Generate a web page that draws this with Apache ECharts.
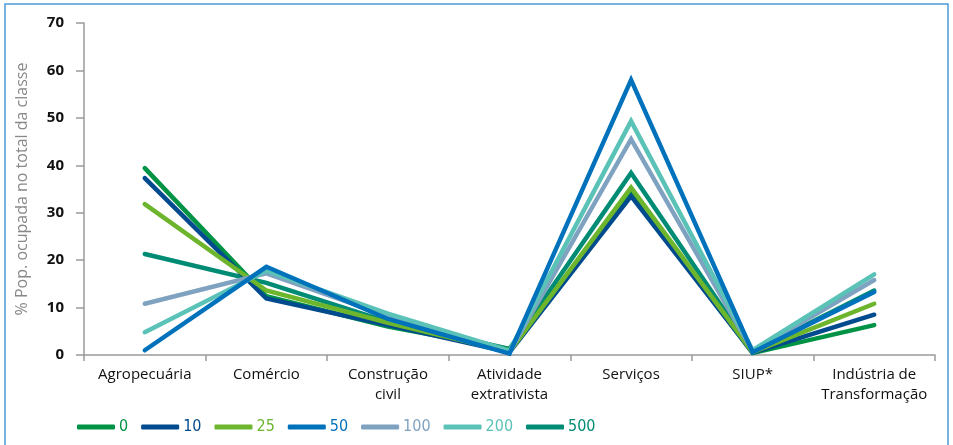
<!DOCTYPE html>
<html>
<head>
<meta charset="utf-8">
<style>
  html, body { margin: 0; padding: 0; background: #fff; }
  #chart { width: 953px; height: 445px; }
</style>
<script src="https://cdn.jsdelivr.net/npm/echarts@6/dist/echarts.min.js"></script>
</head>
<body>
<div id="chart"></div>
<script>
// Economic sectors (x axis)
const categories = [
  'Agropecuária', 'Comércio', 'Construção\ncivil', 'Atividade\nextrativista',
  'Serviços', 'SIUP*', 'Indústria de\nTransformação'
];

// Share of employed population per sector, one list per class
const classNames = ['0', '10', '25', '50', '100', '200', '500'];
const s0   = [39.4, 12.4, 6.0, 1.2, 34.4, 0.4, 6.3];
const s10  = [37.3, 11.9, 6.3, 0.6, 33.5, 0.5, 8.5];
const s25  = [31.8, 13.6, 6.8, 0.7, 35.3, 0.6, 10.8];
const s50  = [1.0, 18.6, 7.6, 0.3, 58.0, 0.6, 13.3];
const s100 = [10.8, 17.2, 8.2, 0.6, 45.5, 0.8, 15.8];
const s200 = [4.8, 17.8, 8.7, 0.9, 49.3, 1.0, 17.0];
const s500 = [21.3, 15.2, 7.0, 1.3, 38.4, 0.7, 13.6];

const yTicks = [0, 10, 20, 30, 40, 50, 60, 70];

const seriesValues = [s0, s10, s25, s50, s100, s200, s500];
const colors = ['#009245', '#004b8d', '#6cb52d', '#0072bc', '#7fa2c1', '#5bc2b7', '#008b74'];
const zOrder = [3, 4, 5, 8, 6, 7, 2];

const chart = echarts.init(document.getElementById('chart'));

chart.setOption({
  animation: false,
  textStyle: { fontFamily: "'Open Sans', 'Noto Sans', sans-serif" },
  graphic: [{
    type: 'rect',
    shape: { x: 5, y: 4, width: 943, height: 460 },
    style: { fill: 'none', stroke: '#4b9bd6', lineWidth: 1.5 },
    silent: true
  }],
  grid: { left: 84, right: 18, top: 23, bottom: 90 },
  legend: {
    left: 72,
    top: 414,
    itemWidth: 38,
    itemHeight: 5,
    itemGap: 13,
    icon: 'roundRect',
    data: classNames.map((n, i) => ({
      name: n,
      textStyle: { color: colors[i] }
    })),
    textStyle: {
      fontSize: 16,
      fontFamily: "'Liberation Sans Narrow', 'DejaVu Sans Condensed', 'Open Sans', sans-serif",
      padding: [0, 0, 0, -1]
    }
  },
  xAxis: {
    type: 'category',
    data: categories,
    boundaryGap: true,
    axisLine: { lineStyle: { color: '#9a9a9a', width: 1.5 } },
    axisTick: { show: true, length: 6, lineStyle: { color: '#9a9a9a', width: 1.5 } },
    axisLabel: {
      color: '#111',
      fontSize: 15,
      margin: 10,
      lineHeight: 20,
      interval: 0
    }
  },
  yAxis: {
    type: 'value',
    min: yTicks[0],
    max: yTicks[yTicks.length - 1],
    interval: 10,
    name: '% Pop. ocupada no total da classe',
    nameLocation: 'middle',
    nameGap: 54,
    nameTextStyle: { color: '#888', fontSize: 16 },
    axisLine: { show: true, lineStyle: { color: '#9a9a9a', width: 1.5 } },
    axisTick: { show: true, length: 8, lineStyle: { color: '#9a9a9a', width: 1.5 } },
    splitLine: { show: false },
    axisLabel: {
      color: '#111',
      fontSize: 15,
      fontWeight: 'bold',
      margin: 20
    }
  },
  series: seriesValues.map((vals, i) => ({
    name: classNames[i],
    type: 'line',
    data: vals,
    z: zOrder[i],
    symbol: 'none',
    showSymbol: false,
    lineStyle: { color: colors[i], width: 4.5, cap: 'round', join: 'miter' },
    itemStyle: { color: colors[i] }
  }))
});
</script>
</body>
</html>
